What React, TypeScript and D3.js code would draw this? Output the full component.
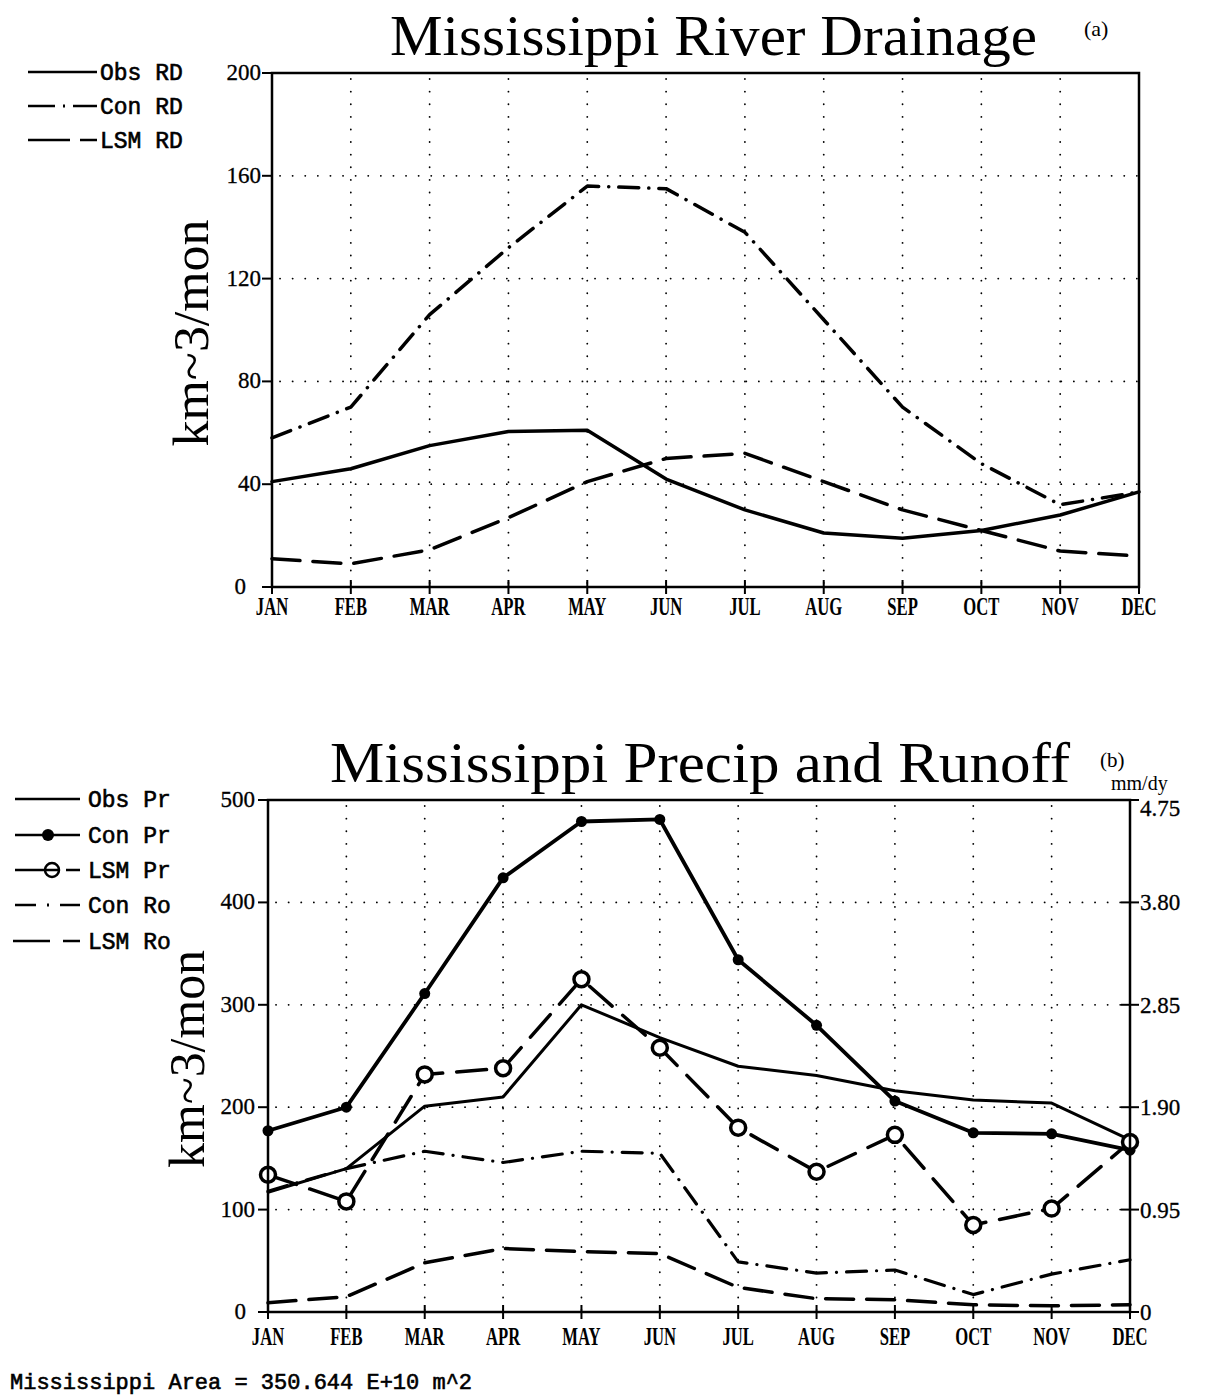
import React from "react";
import * as d3 from "d3";

const months = ["JAN", "FEB", "MAR", "APR", "MAY", "JUN", "JUL", "AUG", "SEP", "OCT", "NOV", "DEC"];

// Panel (a): Mississippi River Drainage, km^3/mon
const obsRD = [41, 46, 55, 60.5, 61, 42, 30, 21, 19, 22, 28, 37];
const conRD = [58, 70, 106, 132, 156, 155, 138, 104, 70, 48, 32, 37];
const lsmRD = [11, 9, 14.5, 27, 41, 50, 52, 41, 30, 22, 14, 12];
const ticksA = [0, 40, 80, 120, 160, 200];

// Panel (b): Mississippi Precip and Runoff, km^3/mon
const obsPr = [117, 140, 201, 210, 300, 268, 240, 231, 216, 207, 204, 168];
const conPr = [177, 200, 311, 424, 479, 481, 344, 280, 206, 175, 174, 158];
const lsmPr = [134, 108, 232, 238, 325, 258, 180, 137, 173, 85, 101, 166];
const conRo = [118, 140, 157, 146, 157, 155, 49, 38, 41, 17, 37, 51];
const lsmRo = [9, 15, 48, 62, 59, 57, 24, 13, 12, 7, 6, 7];
const ticksB = [0, 100, 200, 300, 400, 500];
const ticksBRight = [0, 0.95, 1.9, 2.85, 3.8, 4.75];

const serif = "'Liberation Serif', 'Times New Roman', serif";
const mono = "'Liberation Mono', 'Courier New', monospace";

const dashDot = "20 10 0.1 10";
const longDash = "28 13";

type Frame = { left: number; right: number; top: number; bottom: number };

function Grid({ f, x, y, hTicks }: { f: Frame; x: d3.ScalePoint<string>; y: d3.ScaleLinear<number, number>; hTicks: number[] }) {
  return (
    <g stroke="#000" strokeWidth={1.8} strokeDasharray="0.1 12.5" strokeLinecap="round" fill="none">
      {months.slice(1, 11).map((m) => (
        <line key={m} x1={x(m)} x2={x(m)} y1={f.top + 6} y2={f.bottom} />
      ))}
      {hTicks.map((t) => (
        <line key={t} x1={f.left + 8} x2={f.right} y1={y(t)} y2={y(t)} />
      ))}
    </g>
  );
}

function MonthAxis({ f, x, baseline }: { f: Frame; x: d3.ScalePoint<string>; baseline: number }) {
  return (
    <g>
      {months.map((m) => (
        <g key={m}>
          <line x1={x(m)} x2={x(m)} y1={f.bottom - 7} y2={f.bottom + 7} stroke="#000" strokeWidth={2} />
          <text
            transform={`translate(${x(m)},${baseline}) scale(0.64,1)`}
            textAnchor="middle"
            fontFamily={serif}
            fontWeight="bold"
            fontSize={26}
          >
            {m}
          </text>
        </g>
      ))}
    </g>
  );
}

export default function App() {
  // ---------- panel a ----------
  const fa: Frame = { left: 272, right: 1139, top: 73, bottom: 587 };
  const xa = d3.scalePoint<string>().domain(months).range([fa.left, fa.right]);
  const ya = d3.scaleLinear().domain([0, 200]).range([fa.bottom, fa.top]);
  const lineA = d3
    .line<number>()
    .x((_, i) => xa(months[i]) as number)
    .y((d) => ya(d));

  // ---------- panel b ----------
  const fb: Frame = { left: 268, right: 1130, top: 800, bottom: 1312 };
  const xb = d3.scalePoint<string>().domain(months).range([fb.left, fb.right]);
  const yb = d3.scaleLinear().domain([0, 500]).range([fb.bottom, fb.top]);
  const ybR = d3.scaleLinear().domain([0, 4.75]).range([fb.bottom, fb.top]);
  const lineB = d3
    .line<number>()
    .x((_, i) => xb(months[i]) as number)
    .y((d) => yb(d));

  const legendText = {
    fontFamily: mono,
    fontSize: 23,
    stroke: "#000",
    strokeWidth: 0.6,
  };
  const tickText = { fontFamily: serif, fontSize: 23, stroke: "#000", strokeWidth: 0.3 };

  return (
    <svg
      width={1208}
      height={1399}
      style={{ display: "block", position: "absolute", left: 0, top: 0, background: "#fff" }}
    >
      <rect x={0} y={0} width={1208} height={1399} fill="#fff" />

      {/* ================= Panel (a) ================= */}
      <text x={390} y={55} fontFamily={serif} fontSize={56} textLength={647} lengthAdjust="spacingAndGlyphs">
        Mississippi River Drainage
      </text>
      <text x={1084} y={36} fontFamily={serif} fontSize={22}>(a)</text>

      {/* legend a */}
      <g stroke="#000" strokeWidth={2.5} fill="none">
        <line x1={28} x2={97} y1={72} y2={72} />
        <line x1={28} x2={55} y1={106} y2={106} />
        <line x1={63} x2={65} y1={106} y2={106} strokeWidth={3} />
        <line x1={73} x2={97} y1={106} y2={106} />
        <line x1={28} x2={70} y1={140} y2={140} />
        <line x1={80} x2={97} y1={140} y2={140} />
      </g>
      <text x={100} y={80} {...legendText}>Obs RD</text>
      <text x={100} y={114} {...legendText}>Con RD</text>
      <text x={100} y={148} {...legendText}>LSM RD</text>

      <Grid f={fa} x={xa} y={ya} hTicks={[40, 80, 120, 160]} />

      {/* y axis a */}
      <text
        transform={`translate(208,333) rotate(-90)`}
        textAnchor="middle"
        fontFamily={serif}
        fontSize={50}
        textLength={227}
        lengthAdjust="spacingAndGlyphs"
      >
        km~3/mon
      </text>
      {ticksA.map((t) => (
        <g key={t}>
          <line x1={fa.left - 10} x2={fa.left} y1={ya(t)} y2={ya(t)} stroke="#000" strokeWidth={2} />
          <text x={fa.left - (t === 0 ? 26 : 11)} y={ya(t) + 7} textAnchor="end" {...tickText}>
            {t}
          </text>
        </g>
      ))}

      <MonthAxis f={fa} x={xa} baseline={615} />

      {/* series a */}
      <g fill="none" stroke="#000" strokeLinecap="round" strokeLinejoin="round">
        <path d={lineA(obsRD) as string} strokeWidth={3.5} />
        <path d={lineA(conRD) as string} strokeWidth={3.5} strokeDasharray={dashDot} />
        <path d={lineA(lsmRD) as string} strokeWidth={3.5} strokeDasharray={longDash} />
      </g>

      <rect x={fa.left} y={fa.top} width={fa.right - fa.left} height={fa.bottom - fa.top} fill="none" stroke="#000" strokeWidth={2.5} />

      {/* ================= Panel (b) ================= */}
      <text x={330} y={782} fontFamily={serif} fontSize={56} textLength={740} lengthAdjust="spacingAndGlyphs">
        Mississippi Precip and Runoff
      </text>
      <text x={1100} y={767} fontFamily={serif} fontSize={21}>(b)</text>
      <text x={1111} y={790} fontFamily={serif} fontSize={20}>mm/dy</text>

      {/* legend b */}
      <g stroke="#000" strokeWidth={2.5} fill="none">
        <line x1={15} x2={80} y1={799} y2={799} />
        <line x1={15} x2={80} y1={835} y2={835} />
        <line x1={15} x2={80} y1={870} y2={870} />
        <line x1={15} x2={36} y1={905} y2={905} />
        <line x1={47} x2={49} y1={905} y2={905} strokeWidth={3} />
        <line x1={60} x2={80} y1={905} y2={905} />
        <line x1={13} x2={50} y1={941} y2={941} />
        <line x1={63} x2={80} y1={941} y2={941} />
      </g>
      <rect x={60} y={866} width={6} height={8} fill="#fff" />
      <circle cx={48} cy={835} r={6} fill="#000" />
      <circle cx={52} cy={870} r={7} fill="none" stroke="#000" strokeWidth={2.5} />
      <text x={88} y={807} {...legendText}>Obs Pr</text>
      <text x={88} y={843} {...legendText}>Con Pr</text>
      <text x={88} y={878} {...legendText}>LSM Pr</text>
      <text x={88} y={913} {...legendText}>Con Ro</text>
      <text x={88} y={949} {...legendText}>LSM Ro</text>

      <Grid f={fb} x={xb} y={yb} hTicks={[100, 200, 300, 400]} />

      {/* y axis b */}
      <text
        transform={`translate(204,1059) rotate(-90)`}
        textAnchor="middle"
        fontFamily={serif}
        fontSize={50}
        textLength={218}
        lengthAdjust="spacingAndGlyphs"
      >
        km~3/mon
      </text>
      {ticksB.map((t) => (
        <g key={t}>
          <line x1={fb.left - 10} x2={fb.left} y1={yb(t)} y2={yb(t)} stroke="#000" strokeWidth={2} />
          <text x={fb.left - (t === 0 ? 22 : 13)} y={yb(t) + 7} textAnchor="end" {...tickText}>
            {t}
          </text>
        </g>
      ))}
      {ticksBRight.map((t) => (
        <g key={t}>
          <line x1={fb.right - 9} x2={fb.right + 9} y1={ybR(t)} y2={ybR(t)} stroke="#000" strokeWidth={2} />
          <text x={fb.right + 10} y={ybR(t) + (t === 4.75 ? 16 : 8)} {...tickText}>
            {t === 0 ? "0" : t.toFixed(2)}
          </text>
        </g>
      ))}

      <MonthAxis f={fb} x={xb} baseline={1345} />

      {/* series b */}
      <g fill="none" stroke="#000" strokeLinecap="round" strokeLinejoin="round">
        <path d={lineB(lsmRo) as string} strokeWidth={3.5} strokeDasharray={longDash} />
        <path d={lineB(conRo) as string} strokeWidth={3.2} strokeDasharray={dashDot} />
        <path d={lineB(obsPr) as string} strokeWidth={3} />
        <path d={lineB(lsmPr) as string} strokeWidth={3.5} strokeDasharray="30 14" />
        <path d={lineB(conPr) as string} strokeWidth={3.8} />
      </g>
      <g>
        {conPr.map((v, i) => (
          <circle key={i} cx={xb(months[i])} cy={yb(v)} r={5.5} fill="#000" />
        ))}
        {lsmPr.map((v, i) => (
          <circle key={i} cx={xb(months[i])} cy={yb(v)} r={7.5} fill="#fff" stroke="#000" strokeWidth={3.5} />
        ))}
      </g>

      <rect x={fb.left} y={fb.top} width={fb.right - fb.left} height={fb.bottom - fb.top} fill="none" stroke="#000" strokeWidth={2.5} />

      {/* footer */}
      <text x={10} y={1389} fontFamily={mono} fontSize={22} stroke="#000" strokeWidth={0.6}>
        Mississippi Area = 350.644 E+10 m^2
      </text>
    </svg>
  );
}
